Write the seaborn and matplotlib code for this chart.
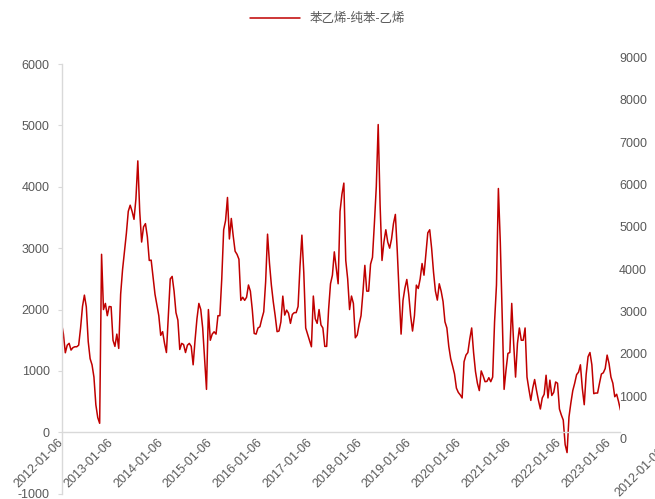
import matplotlib
matplotlib.use("Agg")
import matplotlib.pyplot as plt
import pandas as pd
import seaborn as sns

# spread values, one point every two weeks
v2012 = [1780, 1600, 1296, 1420, 1450, 1340, 1380, 1394, 1394, 1420, 1700, 2050, 2235,
         2045, 1480, 1200, 1100, 900, 450, 240, 147, 2900, 2000, 2100, 1900, 2050]
v2013 = [2045, 1500, 1400, 1600, 1367, 2250, 2650, 2950, 3240, 3600, 3700, 3600, 3470,
         3800, 4422, 3600, 3100, 3347, 3400, 3185, 2800, 2805, 2533, 2250, 2072, 1900]
v2014 = [1580, 1640, 1450, 1300, 1900, 2500, 2540, 2300, 1950, 1828, 1350, 1449, 1430,
         1300, 1420, 1449, 1400, 1100, 1500, 1850, 2100, 2000, 1700, 1200, 700, 2000]
v2015 = [1500, 1600, 1638, 1600, 1900, 1900, 2500, 3300, 3450, 3826, 3150, 3484, 3200,
         2950, 2900, 2820, 2150, 2200, 2150, 2200, 2400, 2300, 2000, 1611, 1600, 1700]
v2016 = [1720, 1850, 1963, 2450, 3228, 2760, 2400, 2127, 1900, 1640, 1650, 1800, 2219,
         1910, 1991, 1940, 1775, 1920, 1950, 1950, 2050, 2700, 3212, 2600, 1700, 1600]
v2017 = [1503, 1394, 2220, 1850, 1775, 2000, 1750, 1700, 1400, 1400, 2000, 2420, 2560,
         2940, 2680, 2420, 3600, 3880, 4060, 2800, 2500, 2000, 2220, 2100, 1540, 1584]
v2018 = [1760, 1900, 2280, 2720, 2300, 2300, 2740, 2850, 3400, 4000, 5014, 3700, 2800,
         3100, 3300, 3100, 3000, 3150, 3400, 3550, 2950, 2250, 1600, 2150, 2350, 2490]
v2019 = [2250, 1900, 1650, 1900, 2398, 2343, 2500, 2750, 2560, 2900, 3250, 3300, 3000,
         2610, 2300, 2154, 2420, 2300, 2130, 1800, 1700, 1400, 1200, 1080, 950, 720]
v2020 = [650, 610, 560, 1150, 1258, 1300, 1520, 1700, 1300, 990, 800, 680, 1000,
         920, 825, 830, 890, 825, 900, 1800, 2400, 3972, 3100, 1900, 700, 1015]
v2021 = [1286, 1300, 2100, 1450, 900, 1450, 1700, 1500, 1500, 1700, 900, 700, 520,
         720, 860, 680, 520, 380, 560, 620, 930, 560, 850, 600, 650, 820]
v2022 = [800, 380, 282, 200, -200, -330, 250, 480, 680, 800, 940, 980, 1100,
         716, 450, 940, 1231, 1300, 1100, 630, 640, 640, 800, 950, 970, 1040]
v2023 = [1258, 1120, 900, 800, 580, 620, 500, 360]

series_name = "苯乙烯-纯苯-乙烯"
left_ticks = [-1000, 0, 1000, 2000, 3000, 4000, 5000, 6000]
right_ticks = [0, 1000, 2000, 3000, 4000, 5000, 6000, 7000, 8000, 9000]
tick_years = list(range(2012, 2024))

values = v2012 + v2013 + v2014 + v2015 + v2016 + v2017 + v2018 + v2019 + v2020 + v2021 + v2022 + v2023
df = pd.DataFrame({
    "date": pd.date_range("2012-01-06", periods=len(values), freq="14D"),
    "spread": values,
})

sns.set_style("white")
plt.rcParams["font.family"] = ["Liberation Sans", "Noto Sans CJK SC"]
plt.rcParams["axes.unicode_minus"] = False

GREY = "#595959"
AXIS = "#D9D9D9"
RED = "#C00000"

fig = plt.figure(figsize=(6.55, 4.99), dpi=100)
ax = fig.add_axes([0.0939, 0.0106, 0.8534, 0.8611])
sns.lineplot(data=df, x="date", y="spread", ax=ax, color=RED, linewidth=1.1, label=series_name)

ax.set_ylim(-1000, 6000)
ax.set_yticks(left_ticks)
ax.set_xlim(df["date"].iloc[0], df["date"].iloc[-1])
ticks = pd.to_datetime([f"{y}-01-06" for y in tick_years])
ax.set_xticks(ticks)
ax.set_xticklabels([t.strftime("%Y-%m-%d") for t in ticks])
ax.set_xlabel("")
ax.set_ylabel("")

for side in ["top", "right"]:
    ax.spines[side].set_visible(False)
ax.spines["left"].set_color(AXIS)
ax.spines["bottom"].set_color(AXIS)
ax.spines["bottom"].set_position(("data", 0))
ax.spines["left"].set_linewidth(1.0)
ax.spines["bottom"].set_linewidth(1.0)
ax.tick_params(axis="y", colors=AXIS, labelcolor=GREY, labelsize=9, length=3, width=0.8, pad=5.5, left=True)
ax.tick_params(axis="x", labelcolor=GREY, labelsize=9, length=0, pad=6, labelrotation=45)
plt.setp(ax.get_xticklabels(), ha="right", va="center", rotation_mode="anchor")

handles, labels = ax.get_legend_handles_labels()
ax.get_legend().remove()
leg = fig.legend(handles, labels, loc="center", bbox_to_anchor=(0.5, 0.962), frameon=False,
                 handlelength=4, fontsize=9)
for t in leg.get_texts():
    t.set_color(GREY)

# secondary value axis on the right, no series on it
ax2 = fig.add_axes([0.0939, 0.1216, 0.8534, 0.763])
ax2.set_ylim(0, 9000)
ax2.set_yticks(right_ticks)
ax2.yaxis.tick_right()
ax2.tick_params(axis="y", labelcolor=GREY, labelsize=9, length=0, pad=-1)
ax2.xaxis.set_visible(False)
ax2.patch.set_alpha(0)
for s in ax2.spines.values():
    s.set_visible(False)

# stray category label of the secondary axis, cut by the right edge
fig.text(1.012, 0.098, "2012-01-06", rotation=45, ha="right", va="center",
         rotation_mode="anchor", color=GREY, fontsize=9)

fig.savefig("out.png", dpi=100)
